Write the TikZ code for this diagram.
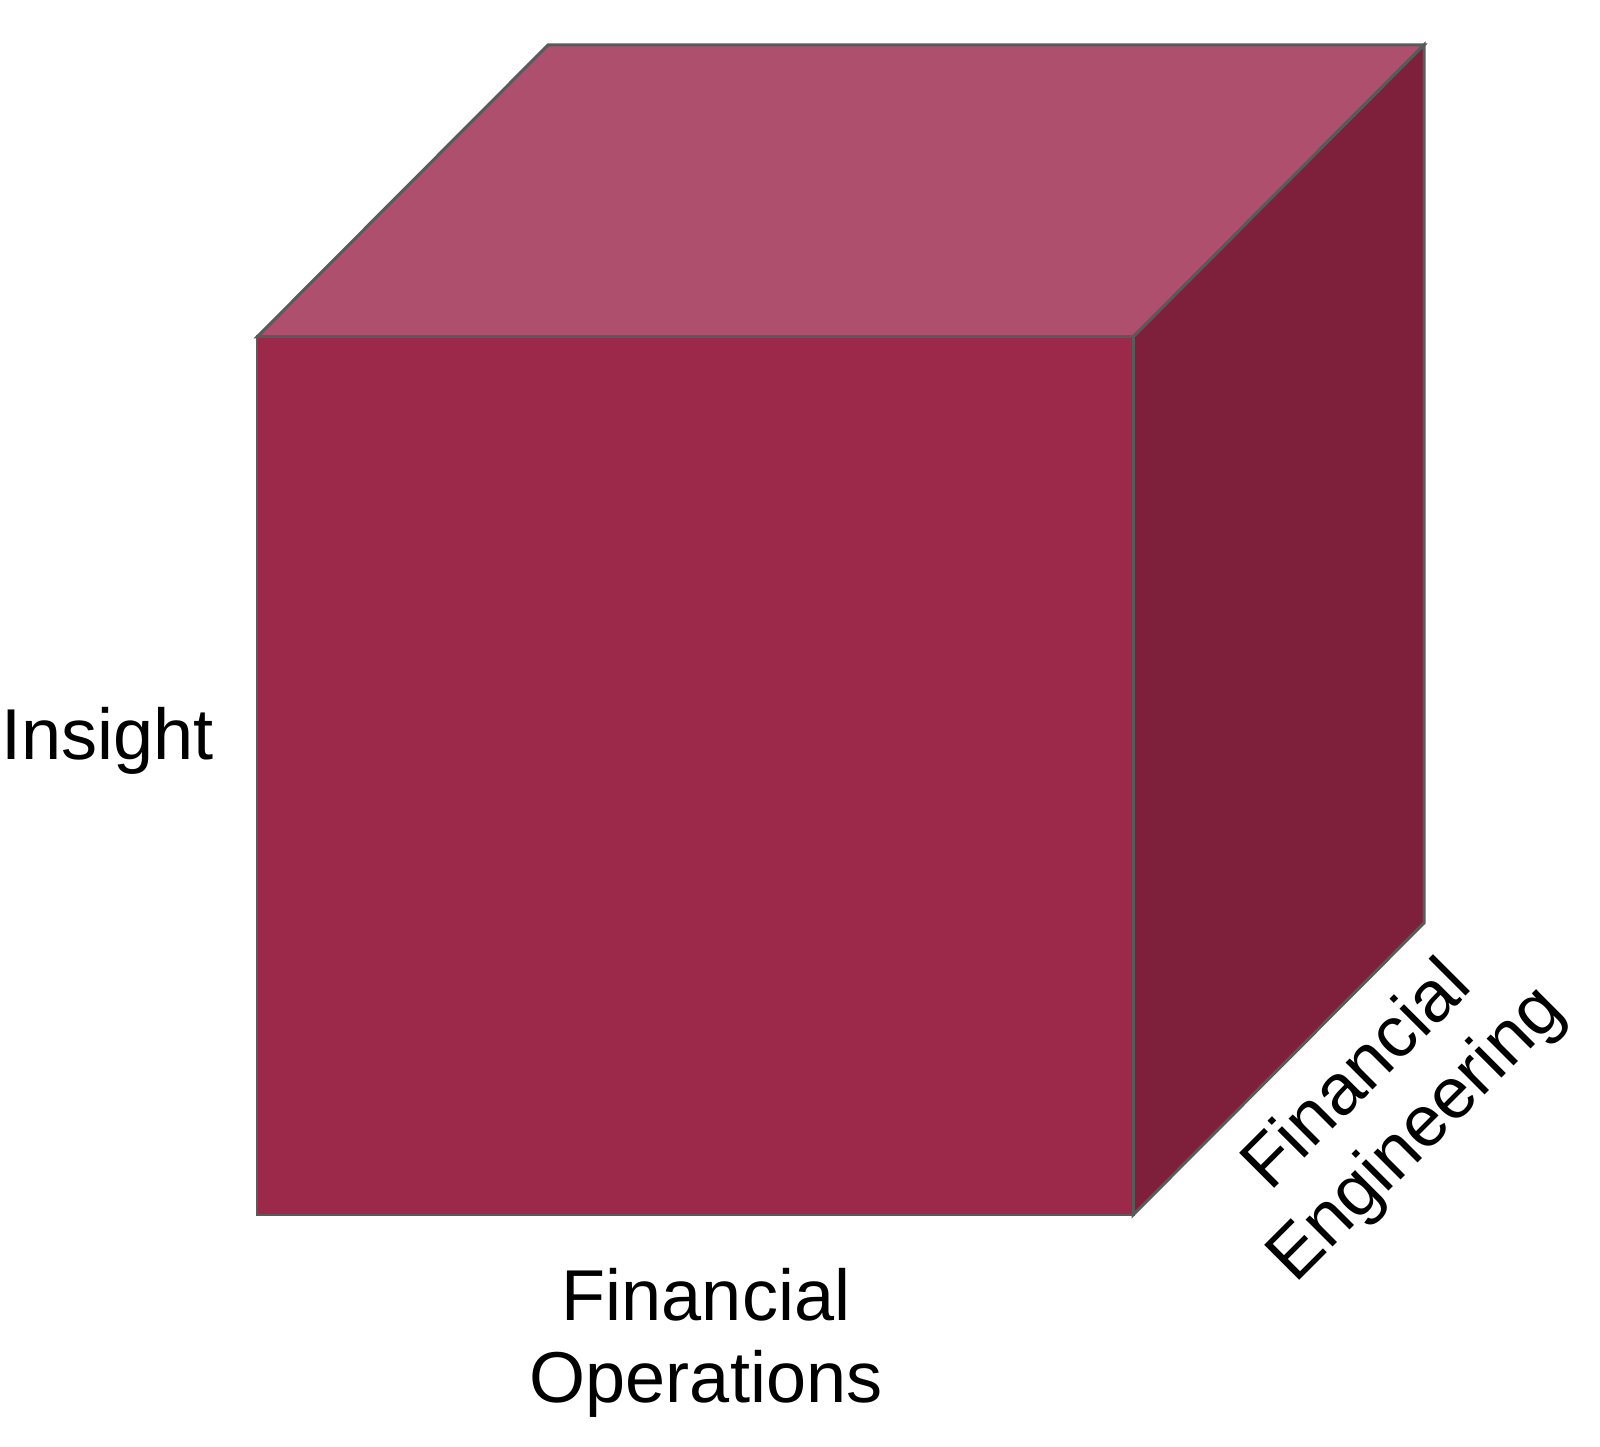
\documentclass[tikz,border=0pt]{standalone}
\usepackage{fontspec}
\setmainfont{Liberation Sans}
\usepackage{tikz}
\usetikzlibrary{calc}
\definecolor{frontred}{HTML}{9C284A}
\definecolor{topred}{HTML}{AD4F6D}
\definecolor{sidered}{HTML}{7E1F3B}
\definecolor{edgegray}{HTML}{5A5A5A}

\begin{document}
\begin{tikzpicture}[face/.style={draw=edgegray,line width=0.85pt,line join=miter},
                    axislabel/.style={inner sep=0pt,align=center,font=\fontsize{20.5}{23.6}\selectfont}]
                \useasboundingbox (0,0) rectangle (16,14.47);
                \coordinate (fbl) at (2.57,2.32);
                \coordinate (fbr) at (11.33,2.32);
                \coordinate (ftr) at (11.33,11.10);
                \coordinate (ftl) at (2.57,11.10);
                \coordinate (btl) at ($(ftl)+(2.91,2.92)$);
                \coordinate (btr) at ($(ftr)+(2.91,2.92)$);
                \coordinate (bbr) at ($(fbr)+(2.91,2.92)$);
                % faces of the cube
                \draw[face,fill=topred] (ftl) -- (btl) -- (btr) -- (ftr) -- cycle;
                \draw[face,fill=sidered] (ftr) -- (btr) -- (bbr) -- (fbr) -- cycle;
                \draw[face,fill=frontred] (fbl) rectangle (ftr);
                % axis labels (base = last line)
                \node[axislabel,anchor=base west] (insight) at (0.01,6.87) {Insight};
                \node[axislabel,anchor=base] (finops) at (7.06,0.44) {Financial\\Operations};
                \node[axislabel,anchor=base,rotate=45] (fineng) at (14.31,2.98) {Financial\\Engineering};
            \end{tikzpicture}
\end{document}
